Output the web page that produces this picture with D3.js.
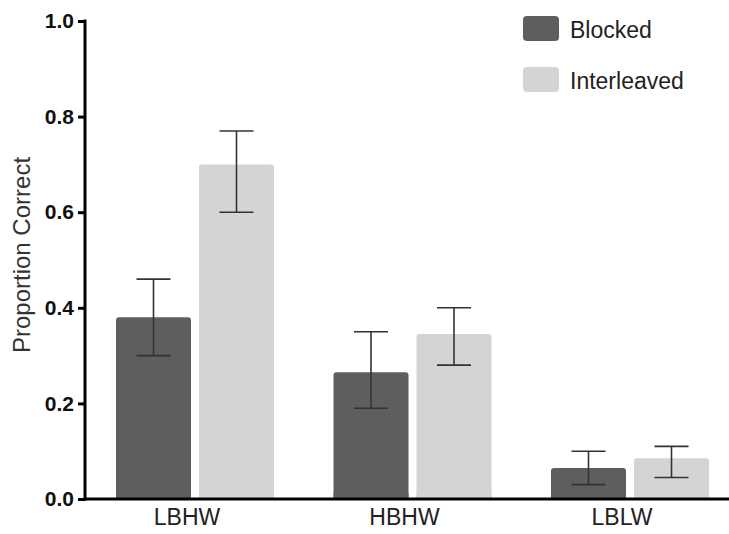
<!DOCTYPE html>
<html><head><meta charset="utf-8">
<script src="https://cdn.jsdelivr.net/npm/d3@7"></script>
<style>body{margin:0;background:#fff}svg{display:block}</style>
</head><body>
<svg id="c" width="729" height="534"></svg>
<script>
const categories = ["LBHW", "HBHW", "LBLW"];
const series = ["Blocked", "Interleaved"];
const blocked = [0.38, 0.265, 0.065];
const interleaved = [0.70, 0.345, 0.085];
const blockedErrLow = [0.30, 0.19, 0.03];
const blockedErrHigh = [0.46, 0.35, 0.10];
const interleavedErrLow = [0.60, 0.28, 0.045];
const interleavedErrHigh = [0.77, 0.40, 0.11];
const yTicks = [0, 0.2, 0.4, 0.6, 0.8, 1.0];
const colors = {Blocked: "#5e5e5e", Interleaved: "#d4d4d4"};

const data = categories.map((c, i) => ({
  cat: c,
  vals: [
    {s: "Blocked", v: blocked[i], lo: blockedErrLow[i], hi: blockedErrHigh[i]},
    {s: "Interleaved", v: interleaved[i], lo: interleavedErrLow[i], hi: interleavedErrHigh[i]}
  ]
}));

const svg = d3.select("#c");
const font = "Liberation Sans, Arial, Helvetica, sans-serif";
const y = d3.scaleLinear().domain([0, 1]).range([499, 21]);
const x0 = d3.scaleBand().domain(categories).range([86.25, 738.75]).padding(0);
const groupW = 158;
const x1 = d3.scaleBand().domain(series)
  .range([x0.bandwidth()/2 - groupW/2, x0.bandwidth()/2 + groupW/2])
  .paddingInner(8/83).paddingOuter(0);

// bars
const g = svg.append("g");
const grp = g.selectAll("g.grp").data(data).join("g")
  .attr("transform", d => `translate(${x0(d.cat)},0)`);
grp.selectAll("rect").data(d => d.vals).join("rect")
  .attr("x", d => x1(d.s))
  .attr("y", d => y(d.v))
  .attr("width", x1.bandwidth())
  .attr("height", d => y(0) - y(d.v))
  .attr("rx", 3)
  .attr("fill", d => colors[d.s]);
grp.selectAll("rect.base").data(d => d.vals).join("rect").attr("class", "base")
  .attr("x", d => x1(d.s))
  .attr("y", d => Math.max(y(d.v) + 3, y(0) - 6))
  .attr("width", x1.bandwidth())
  .attr("height", d => y(0) - Math.max(y(d.v) + 3, y(0) - 6))
  .attr("fill", d => colors[d.s]);

// error bars
const cap = 17;
const eb = grp.selectAll("g.eb").data(d => d.vals).join("g")
  .attr("stroke", "#333").attr("stroke-width", 1.6).attr("fill", "none");
eb.append("line")
  .attr("x1", d => x1(d.s) + x1.bandwidth()/2).attr("x2", d => x1(d.s) + x1.bandwidth()/2)
  .attr("y1", d => y(d.lo)).attr("y2", d => y(d.hi));
eb.append("line")
  .attr("x1", d => x1(d.s) + x1.bandwidth()/2 - cap).attr("x2", d => x1(d.s) + x1.bandwidth()/2 + cap)
  .attr("y1", d => y(d.hi)).attr("y2", d => y(d.hi));
eb.append("line")
  .attr("x1", d => x1(d.s) + x1.bandwidth()/2 - cap).attr("x2", d => x1(d.s) + x1.bandwidth()/2 + cap)
  .attr("y1", d => y(d.lo)).attr("y2", d => y(d.lo));

// y axis
const yAxis = svg.append("g").attr("transform", "translate(85,0)")
  .call(d3.axisLeft(y).tickValues(yTicks).tickFormat(d3.format(".1f")).tickSize(7).tickSizeOuter(0).tickPadding(4));
yAxis.select(".domain").attr("stroke", "#000").attr("stroke-width", 3)
  .attr("d", `M0,${y(1)-1.5}V${y(0)+1.5}`);
yAxis.selectAll(".tick line").attr("stroke", "#000").attr("stroke-width", 3);
yAxis.selectAll(".tick text").attr("font-family", font).attr("font-size", 21)
  .attr("font-weight", "bold").attr("fill", "#111");

// x axis
const xAxis = svg.append("g").attr("transform", `translate(0,${y(0)})`)
  .call(d3.axisBottom(x0).tickSize(0).tickPadding(10));
xAxis.select(".domain").attr("stroke", "#000").attr("stroke-width", 3)
  .attr("d", "M84,0H729");
xAxis.selectAll(".tick text").attr("font-family", font).attr("font-size", 23)
  .attr("fill", "#222").attr("dx", -8);

// y label
svg.append("text").attr("transform", "translate(30,255) rotate(-90)")
  .attr("text-anchor", "middle").attr("font-family", font).attr("font-size", 24)
  .attr("fill", "#333").text("Proportion Correct");

// legend
const lg = svg.append("g");
const li = lg.selectAll("g").data(series).join("g")
  .attr("transform", (d, i) => `translate(523,${16 + i*51})`);
li.append("rect").attr("width", 36).attr("height", 25).attr("rx", 4)
  .attr("fill", d => colors[d]);
li.append("text").attr("x", 47).attr("y", 22).attr("font-family", font)
  .attr("font-size", 23).attr("fill", "#222").text(d => d);
</script>
</body></html>
